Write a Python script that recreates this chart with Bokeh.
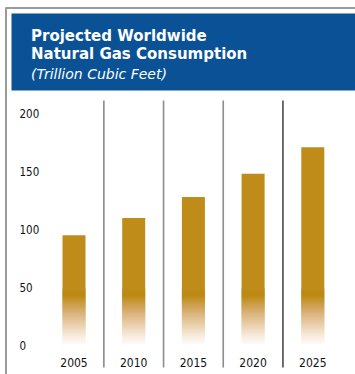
from bokeh.plotting import figure
from bokeh.models import Range1d, ColumnDataSource
from bokeh.core.properties import value
from bokeh.embed import file_html
from bokeh.resources import INLINE

# ---- data ----
years = ["2005", "2010", "2015", "2020", "2025"]
consumption = [95, 110, 128, 148, 171]
y_ticks = [0, 50, 100, 150, 200]
y_tick_labels = ["0", "50", "100", "150", "200"]
title_lines = ["Projected Worldwide", "Natural Gas Consumption"]
subtitle = "(Trillion Cubic Feet)"

# ---- layout helpers (pixel -> data, styling only) ----
W, H = 355, 374
ZERO_PX, SCALE = 345.0, 1.16       # y pixel of value 0, px per unit
X0_PX, STEP = 73.5, 59.7           # x pixel of first bar centre, px per category

def py(pix):
    return (ZERO_PX - pix) / SCALE

def px(pix):
    return (pix - X0_PX) / STEP

NARROW = value("'DejaVu Sans Condensed', 'Roboto', sans-serif")

p = figure(width=W, height=H, output_backend="svg", toolbar_location=None,
           x_axis_location=None, y_axis_location=None, min_border=0,
           x_range=Range1d(px(0), px(W)), y_range=Range1d(py(H), py(0)))
p.outline_line_color = None
p.xgrid.visible = False
p.ygrid.visible = False
p.background_fill_color = "white"
p.border_fill_color = "white"

# frame lines
p.segment(x0=[px(5.5)], y0=[py(7)], x1=[px(5.5)], y1=[py(H)], line_color="#9a9a9a", line_width=2)
p.segment(x0=[px(5)], y0=[py(7.5)], x1=[px(W)], y1=[py(7.5)], line_color="#9a9a9a", line_width=2)

# header
p.quad(left=[px(11)], right=[px(W + 2)], top=[py(13)], bottom=[py(90)],
       fill_color="#0A5295", line_color=None)
p.text(x=[px(30.5), px(30.5)], y=[py(35.7), py(53.7)], text=title_lines,
       text_font=value("DejaVu Sans"), text_font_style="bold", text_font_size="15px",
       text_color="white", text_baseline="middle", text_align="left")
p.text(x=[px(30.5)], y=[py(73.5)], text=[subtitle],
       text_font=value("DejaVu Sans"), text_font_style="italic", text_font_size="14px",
       text_color="white", text_baseline="middle", text_align="left")

# separators between categories
n = len(years)
sep_x = [i + 0.5 for i in range(n - 1)]
sep_colors = ["#8c8c8c"] * (n - 2) + ["#4a4a4a"]
p.segment(x0=sep_x, y0=[py(100)] * len(sep_x), x1=sep_x, y1=[py(367)] * len(sep_x),
          line_color=sep_colors, line_width=1.6)

# bars: solid part + faded bottom (opaque overlapping rows -> smooth gradient)
GOLD = (191, 140, 26)
STOPS = [(0.0, GOLD), (0.12, (187, 136, 17)), (0.40, (214, 172, 110)),
         (0.85, (246, 234, 218)), (1.0, (254, 249, 248))]
FADE_TOP_PX, FADE_END_PX = 288, 343
BW = 23.0 / STEP
xs = list(range(n))
p.vbar(x=xs, width=BW, bottom=py(FADE_TOP_PX + 1), top=consumption,
       fill_color="#%02x%02x%02x" % GOLD, line_color=None)

def grad(t):
    for (t0, c0), (t1, c1) in zip(STOPS[:-1], STOPS[1:]):
        if t <= t1:
            w = (t - t0) / (t1 - t0)
            return tuple(int(round(a + (b - a) * w)) for a, b in zip(c0, c1))
    return STOPS[-1][1]

fx, fb, ft, fc = [], [], [], []
span = FADE_END_PX - FADE_TOP_PX
for i in xs:
    for r in range(FADE_TOP_PX, FADE_END_PX):
        t = (r - FADE_TOP_PX + 0.5) / span
        c = grad(t)
        bottom_px = r + 2 if r < FADE_END_PX - 1 else r + 1
        fx.append(i); ft.append(py(r)); fb.append(py(bottom_px)); fc.append("#%02x%02x%02x" % c)
p.vbar(source=ColumnDataSource(dict(x=fx, b=fb, t=ft, c=fc)), x="x", bottom="b", top="t",
       width=BW, fill_color="c", line_color=None)

# y tick labels
p.text(x=[px(19)] * len(y_ticks), y=y_ticks, text=y_tick_labels,
       text_font=NARROW, text_font_size="11.5px",
       text_color="#111111", text_baseline="middle", text_align="left")

# category labels
p.text(x=xs, y=[py(362)] * n, text=years,
       text_font=NARROW, text_font_size="12px",
       text_color="#111111", text_baseline="middle", text_align="center")

open("out.html", "w").write(file_html(p, INLINE))
